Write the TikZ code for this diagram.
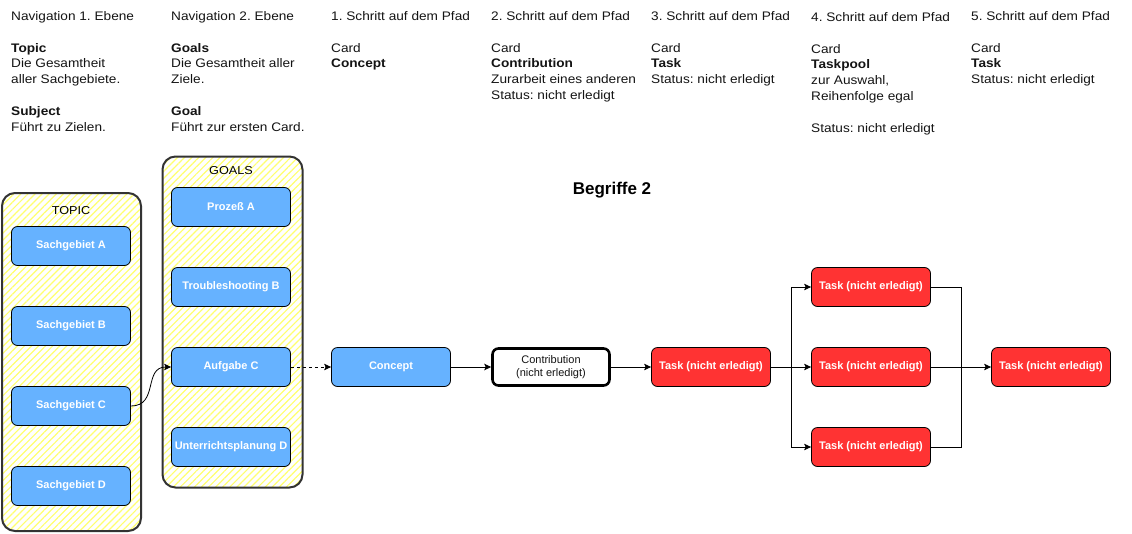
\documentclass[tikz,border=0pt]{standalone}
\usepackage{fontspec}
\setmainfont{Liberation Sans}
\newfontfamily\hdrfont{Liberation Sans}[FakeStretch=1.1]
\usetikzlibrary{arrows.meta,patterns.meta,calc}
\definecolor{boxblue}{RGB}{102,178,255}
\definecolor{boxred}{RGB}{255,51,51}
\definecolor{hatchy}{RGB}{255,255,110}
\definecolor{framegray}{RGB}{51,51,51}
\definecolor{txtdark}{RGB}{20,20,20}
\frenchspacing
\begin{document}
\begin{tikzpicture}[x=1pt,y=-1pt,
  card/.style={rectangle, rounded corners=6pt, draw=black, line width=0.8pt,
    minimum width=119pt, minimum height=39pt, inner sep=0pt,
    font=\fontsize{11}{13}\selectfont\bfseries, text=white},
  bluecard/.style={card, fill=boxblue},
  redcard/.style={card, fill=boxred},
  contrib/.style={rectangle, rounded corners=6pt, draw=black, line width=2.6pt, fill=white,
    minimum width=117pt, minimum height=37pt, inner sep=0pt, align=center,
    font=\fontsize{11}{13}\selectfont, text=txtdark},
  container/.style={rectangle, rounded corners=13pt, draw=framegray, line width=2pt,
    pattern={Lines[angle=45,distance=5pt,line width=1.2pt]}, pattern color=hatchy,
    inner sep=0pt},
  clabel/.style={font=\hdrfont\fontsize{11.5}{13}\selectfont, text=black, inner sep=0pt},
  hdr/.style={anchor=north west, inner sep=0pt, align=left, font=\hdrfont\fontsize{12.4}{15.8}\selectfont, text=txtdark},
  conn/.style={draw=black, line width=0.8pt, -{Stealth[length=7pt,width=6.5pt,inset=1.5pt]}},
  plainconn/.style={draw=black, line width=0.8pt}
]
\useasboundingbox (0,0) rectangle (1132,533);

% header texts
\node[hdr] (h1) at (11,11.4) {Navigation 1. Ebene\\[15.8pt]\textbf{Topic}\\Die Gesamtheit\\aller Sachgebiete.\\[15.8pt]\textbf{Subject}\\Führt zu Zielen.};
\node[hdr] (h2) at (171,11.4) {Navigation 2. Ebene\\[15.8pt]\textbf{Goals}\\Die Gesamtheit aller\\Ziele.\\[15.8pt]\textbf{Goal}\\Führt zur ersten Card.};
\node[hdr] (h3) at (331,11.4) {1. Schritt auf dem Pfad\\[15.8pt]Card\\\textbf{Concept}};
\node[hdr] (h4) at (491,11.4) {2. Schritt auf dem Pfad\\[15.8pt]Card\\\textbf{Contribution}\\Zurarbeit eines anderen\\Status: nicht erledigt};
\node[hdr] (h5) at (651,11.4) {3. Schritt auf dem Pfad\\[15.8pt]Card\\\textbf{Task}\\Status: nicht erledigt};
\node[hdr] (h6) at (811,12.4) {4. Schritt auf dem Pfad\\[15.8pt]Card\\\textbf{Taskpool}\\zur Auswahl,\\Reihenfolge egal\\[15.8pt]Status: nicht erledigt};
\node[hdr] (h7) at (971,11.4) {5. Schritt auf dem Pfad\\[15.8pt]Card\\\textbf{Task}\\Status: nicht erledigt};

\node[font=\fontsize{17}{19}\selectfont\bfseries, inner sep=0pt] (title) at (612,190) {Begriffe 2};

% containers
\node[container, minimum width=139pt, minimum height=338pt] (topic) at (71.5,362) {};
\node[container, minimum width=140pt, minimum height=331pt] (goals) at (232.5,322) {};
\node[clabel] (topiclbl) at (71,211) {TOPIC};
\node[clabel] (goalslbl) at (231,171) {GOALS};

% topic cards
\node[bluecard] (sa) at (71,246) {Sachgebiet A};
\node[bluecard] (sb) at (71,326) {Sachgebiet B};
\node[bluecard] (sc) at (71,406) {Sachgebiet C};
\node[bluecard] (sd) at (71,486) {Sachgebiet D};

% goal cards
\node[bluecard] (ga) at (231,207) {Prozeß A};
\node[bluecard] (gb) at (231,287) {Troubleshooting B};
\node[bluecard] (gc) at (231,367) {Aufgabe C};
\node[bluecard] (gd) at (231,447) {Unterrichtsplanung D};

% path
\node[bluecard] (concept) at (391,367) {Concept};
\node[contrib] (contribution) at (551,367) {Contribution\\(nicht erledigt)};
\node[redcard] (t3) at (711,367) {Task (nicht erledigt)};
\node[redcard] (t4a) at (871,287) {Task (nicht erledigt)};
\node[redcard] (t4b) at (871,367) {Task (nicht erledigt)};
\node[redcard] (t4c) at (871,447) {Task (nicht erledigt)};
\node[redcard] (t5) at (1051,367) {Task (nicht erledigt)};

\coordinate (split) at (791,367);
\coordinate (join) at (961,367);

% connectors
\draw[conn] (sc.east) .. controls +(28,0) and +(-28,0) .. (gc.west);
\draw[conn, dashed, dash pattern=on 3pt off 3pt] (gc.east) -- (concept.west);
\draw[conn] (concept.east) -- (contribution.west);
\draw[conn] (contribution.east) -- (t3.west);
\draw[conn] (t3.east) -- (t4b.west);
\draw[conn] (split) |- (t4a.west);
\draw[conn] (split) |- (t4c.west);
\draw[conn] (t4b.east) -- (t5.west);
\draw[plainconn] (t4a.east) -| (join);
\draw[plainconn] (t4c.east) -| (join);
\end{tikzpicture}
\end{document}
